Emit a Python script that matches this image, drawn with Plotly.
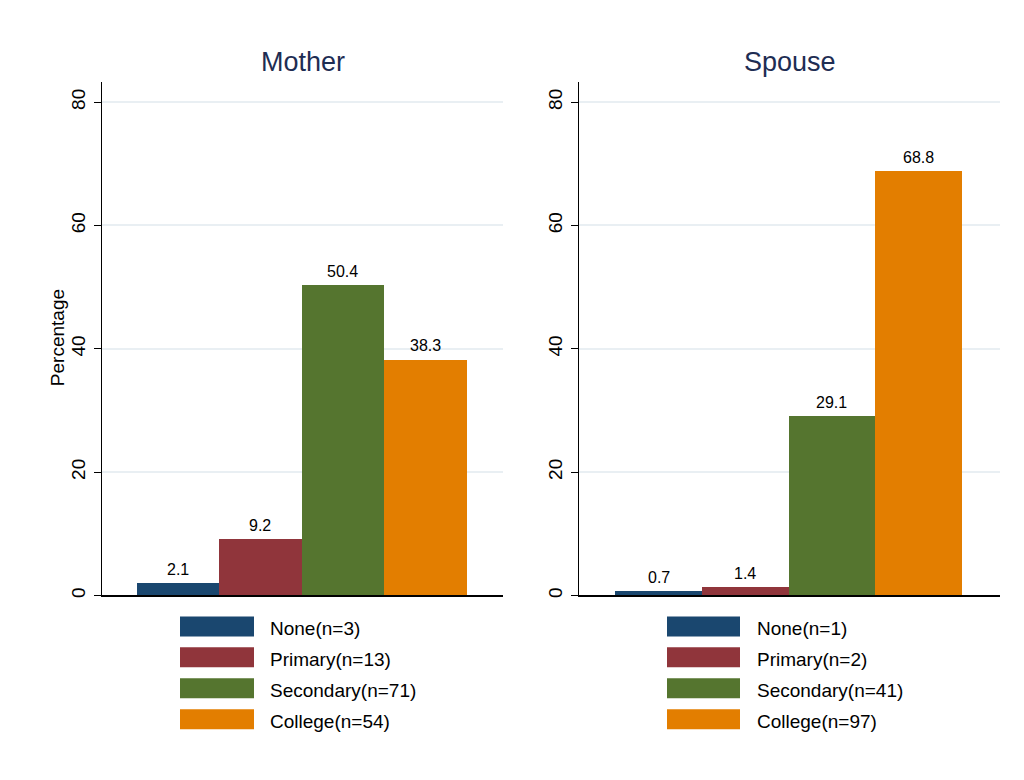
import plotly.graph_objects as go

# ---- data ----
categories = ["None", "Primary", "Secondary", "College"]
panels = ["Mother", "Spouse"]
mother_pct = [2.1, 9.2, 50.4, 38.3]
spouse_pct = [0.7, 1.4, 29.1, 68.8]
mother_n = [3, 13, 71, 54]
spouse_n = [1, 2, 41, 97]
y_ticks = [0, 20, 40, 60, 80]

colors = ["#1a476f", "#90353b", "#55752f", "#e37e00"]
FONT = "Liberation Sans, Arial, sans-serif"
W, H = 1024, 780
OFF = 8  # page body margin

def px(x):
    return (x - OFF) / W

def py(y):
    return 1 - (y - OFF) / H

fig = go.Figure()

panel_data = [(mother_pct, mother_n), (spouse_pct, spouse_n)]
x_domains = [[px(102), px(503)], [px(579), px(1000)]]
y_domain = [py(597), py(82)]
legend_rect_x = [(180, 254), (667, 740)]
legend_text_x = [268, 755]
legend_rows = [628, 659, 690, 721]

annotations = []
shapes = []

for k, (pct, ns) in enumerate(panel_data):
    xs = list(range(len(categories)))
    suffix = "" if k == 0 else "2"
    fig.add_trace(go.Bar(
        x=xs, y=pct, width=1,
        marker=dict(color=colors, line=dict(width=0)),
        xaxis="x" + suffix, yaxis="y" + suffix,
        showlegend=False, hoverinfo="skip",
    ))
    # value labels
    for i, v in enumerate(pct):
        annotations.append(dict(
            x=xs[i], y=v, xref="x" + suffix, yref="y" + suffix,
            text=f"{v:.1f}", showarrow=False, yanchor="bottom", yshift=3,
            font=dict(family=FONT, size=16, color="black"),
        ))
    # panel title
    annotations.append(dict(
        x=(x_domains[k][0] + x_domains[k][1]) / 2, y=py(62), xref="paper", yref="paper",
        text=panels[k], showarrow=False, xanchor="center", yanchor="middle",
        font=dict(family=FONT, size=27, color="#1e2d53"),
    ))
    # legend (drawn as boxes + labels)
    for i, cat in enumerate(categories):
        yc = legend_rows[i]
        shapes.append(dict(
            type="rect", xref="paper", yref="paper",
            x0=px(legend_rect_x[k][0]), x1=px(legend_rect_x[k][1]),
            y0=py(yc + 10), y1=py(yc - 10),
            fillcolor=colors[i], line=dict(width=0),
        ))
        annotations.append(dict(
            x=px(legend_text_x[k]), y=py(yc + 2), xref="paper", yref="paper",
            text=f"{cat}(n={ns[i]})", showarrow=False, xanchor="left", yanchor="middle",
            font=dict(family=FONT, size=19, color="black"),
        ))

annotations.append(dict(
    x=px(57), y=py(339), xref="paper", yref="paper", text="Percentage",
    textangle=-90, showarrow=False, xanchor="center", yanchor="middle",
    font=dict(family=FONT, size=19, color="black"),
))

xaxis_common = dict(range=[-0.92, 3.94], showline=True, linecolor="black", linewidth=1.5,
                    showticklabels=False, ticks="", showgrid=False, zeroline=False, fixedrange=True)
yaxis_common = dict(range=[0, 83.3], tickvals=y_ticks, ticks="outside", ticklen=7, tickwidth=1,
                    tickcolor="black", tickangle=-90, showline=True, linecolor="black", linewidth=1,
                    gridcolor="#e9eff3", gridwidth=1.5, zeroline=False, ticklabelstandoff=1,
                    tickfont=dict(family=FONT, size=19, color="black"), domain=y_domain)

fig.update_layout(
    width=W, height=H,
    margin=dict(l=0, r=0, t=0, b=0),
    paper_bgcolor="white", plot_bgcolor="white",
    bargap=0,
    xaxis=dict(domain=x_domains[0], anchor="y", **xaxis_common),
    xaxis2=dict(domain=x_domains[1], anchor="y2", **xaxis_common),
    yaxis=dict(anchor="x", **yaxis_common),
    yaxis2=dict(anchor="x2", **yaxis_common),
    annotations=annotations,
    shapes=shapes,
    showlegend=False,
)

fig.write_html("out.html")
